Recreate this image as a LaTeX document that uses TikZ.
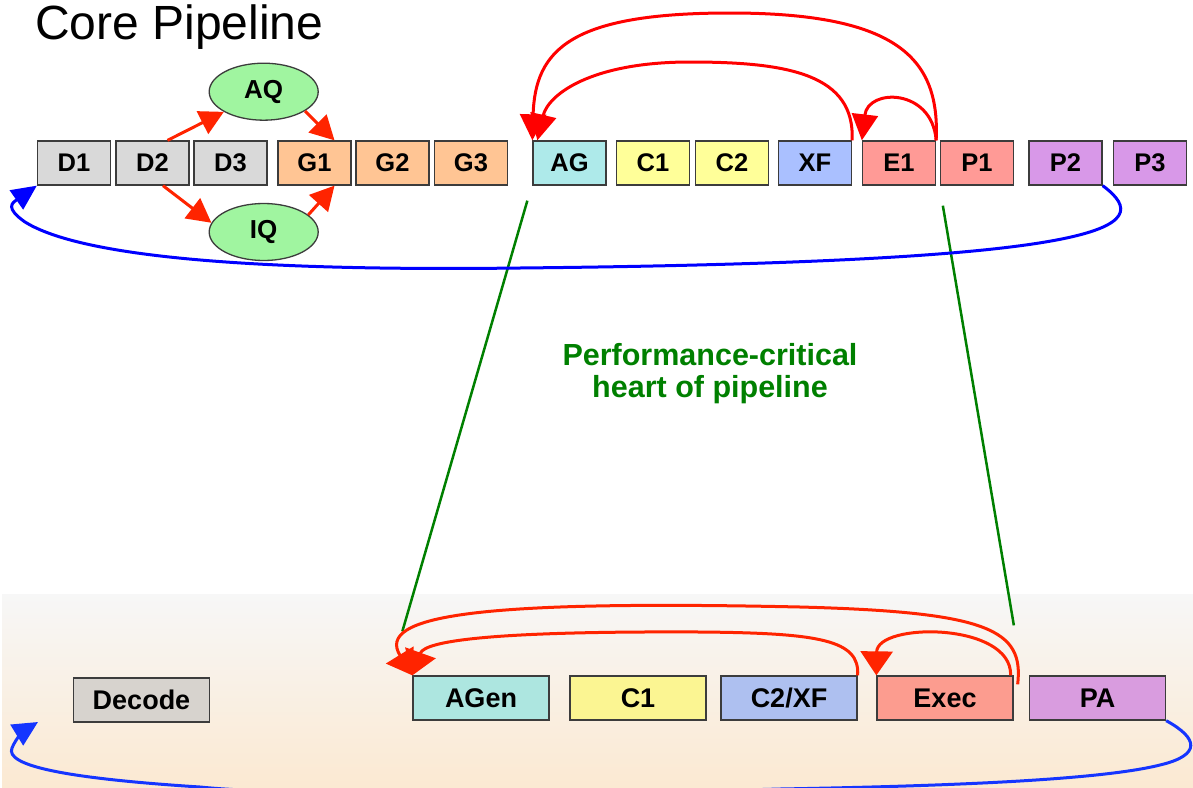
\documentclass[tikz,border=0pt]{standalone}
\usepackage{fontspec}
\setmainfont{Liberation Sans}
\usetikzlibrary{arrows.meta,calc,shapes.geometric}
\definecolor{bordercol}{HTML}{3C3C3C}
\definecolor{cgray}{HTML}{D9D9D9}
\definecolor{corange}{HTML}{FFC594}
\definecolor{ccyan}{HTML}{AEEAEA}
\definecolor{cyellow}{HTML}{FFFF99}
\definecolor{cblue}{HTML}{AAC0FF}
\definecolor{cred}{HTML}{FF9A96}
\definecolor{cpurple}{HTML}{D898E8}
\definecolor{cgreen}{HTML}{A0F5A0}
\definecolor{bgray}{HTML}{D7D3CE}
\definecolor{bcyan}{HTML}{ADE6E0}
\definecolor{byellow}{HTML}{FBF592}
\definecolor{bblue}{HTML}{AEC0F0}
\definecolor{bred}{HTML}{FC9C8F}
\definecolor{bpurple}{HTML}{D99CDF}
\definecolor{arrred}{HTML}{FF0000}
\definecolor{arrred2}{HTML}{FF2400}
\definecolor{arrblue}{HTML}{0000FF}
\definecolor{arrblue2}{HTML}{1535FF}
\definecolor{dgreen}{HTML}{008000}
\definecolor{bgtop}{HTML}{F7F7F7}
\definecolor{bgmid}{HTML}{FDF8F1}
\definecolor{bgbot}{HTML}{FBE9D2}
\tikzset{
  tbox/.style={draw=bordercol, line width=1.3pt, minimum width=73pt, minimum height=44pt,
    inner sep=0pt, font=\fontsize{25.5}{30}\selectfont\bfseries},
  bbox/.style={draw=bordercol, line width=1.3pt, minimum width=136pt, minimum height=44pt,
    inner sep=0pt, font=\fontsize{27}{30}\selectfont\bfseries},
  qell/.style={ellipse, draw=bordercol, line width=1.3pt, fill=cgreen, minimum width=109pt,
    minimum height=57pt, inner sep=0pt, font=\fontsize{26}{30}\selectfont\bfseries},
  redarr/.style={draw=arrred, line width=3pt, -{Triangle[length=26pt,width=26pt]}},
  redarrb/.style={draw=arrred2, line width=3pt, -{Triangle[length=24pt,width=32pt]}},
  qarr/.style={draw=arrred2, line width=3pt, -{Triangle[length=24pt,width=25pt]}},
  bluearr/.style={draw=arrblue, line width=3pt, -{Triangle[length=25pt,width=23pt]}},
  bluearrb/.style={draw=arrblue2, line width=3pt, -{Triangle[length=25pt,width=24pt]}},
  gline/.style={draw=dgreen, line width=2.5pt}
}
\begin{document}
\begin{tikzpicture}[x=1pt,y=-1pt]
\useasboundingbox (0,0) rectangle (1193,787);
\clip (0,0) rectangle (1193,787);
\fill[white] (0,0) rectangle (1193,787);
\fill[top color=bgtop, middle color=bgmid, bottom color=bgbot] (2,594) rectangle (1193,787);

% title
\node[anchor=base west, inner sep=0pt, font=\fontsize{48}{50}\selectfont] (title) at (35,39) {Core Pipeline};

% top row
\node[tbox, fill=cgray] (D1) at (74,163) {D1};
\node[tbox, fill=cgray] (D2) at (152.5,163) {D2};
\node[tbox, fill=cgray] (D3) at (230.5,163) {D3};
\node[tbox, fill=corange] (G1) at (314.5,163) {G1};
\node[tbox, fill=corange] (G2) at (392.5,163) {G2};
\node[tbox, fill=corange] (G3) at (471,163) {G3};
\node[tbox, fill=ccyan] (AG) at (569.5,163) {AG};
\node[tbox, fill=cyellow] (C1) at (653,163) {C1};
\node[tbox, fill=cyellow] (C2) at (732,163) {C2};
\node[tbox, fill=cblue] (XF) at (815,163) {XF};
\node[tbox, fill=cred] (E1) at (899,163) {E1};
\node[tbox, fill=cred] (P1) at (977,163) {P1};
\node[tbox, fill=cpurple] (P2) at (1065.5,163) {P2};
\node[tbox, fill=cpurple] (P3) at (1150,163) {P3};

\node[qell] (AQ) at (263.7,91.7) {AQ};
\node[qell] (IQ) at (263.7,232) {IQ};

% bottom row
\node[bbox, fill=bgray] (Decode) at (141.5,700) {Decode};
\node[bbox, fill=bcyan] (AGen) at (481,698) {AGen};
\node[bbox, fill=byellow] (BC1) at (638,698) {C1};
\node[bbox, fill=bblue] (C2XF) at (789,698) {C2/XF};
\node[bbox, fill=bred] (Exec) at (945,698) {Exec};
\node[bbox, fill=bpurple] (PA) at (1097.5,698) {PA};

% green text
\node[align=center, inner sep=0pt, text=dgreen, font=\fontsize{30.5}{32}\selectfont\bfseries] (crit) at (710,374)
  {Performance-critical\\heart of pipeline};

% green lines
\draw[gline] ($(AG.south west)+(-5,15)$) -- ($(AGen.north west)+(-10,-44)$);
\draw[gline] ($(P1.south west)+(3,20)$) -- ($(PA.north west)+(-15,-50)$);

% queue arrows
\draw[qarr] ($(D2.north)+(15,0)$) -- (AQ);
\draw[qarr] (AQ.-25) -- ($(G1.north)+(20,0)$);
\draw[qarr] ($(D2.south)+(10.5,0)$) -- (IQ.170);
\draw[qarr] (IQ.21) -- ($(G1.south)+(20,0)$);

% top red bypass arcs
\draw[redarr] (E1.north east) .. controls (940,60) and (900,13) .. (730,13)
  .. controls (570,13) and (535,50) .. (AG.north west);
\draw[redarr] (XF.north east) .. controls (855,75) and (790,62) .. (690,62)
  .. controls (590,62) and (548,95) .. ($(AG.north west)+(5,0)$);
\draw[redarr] (E1.north east) .. controls (932,88) and (868,88) .. (E1.north west);

% top blue loop
\draw[bluearr] (P2.south east) .. controls (1160,228) and (1110,262) .. (520,268)
  .. controls (200,272) and (70,250) .. (25,222)
  .. controls (5,208) and (12,203) .. (D1.south west);

% bottom red bypass arcs
\draw[redarrb] ($(Exec.north east)+(4,9)$) .. controls (1024,630) and (990,612) .. (800,607)
  .. controls (480,600) and (375,615) .. (AGen.north west);
\draw[redarrb] (C2XF.north east) .. controls (860,640) and (820,633) .. (700,632)
  .. controls (500,631) and (425,640) .. (AGen.north west);
\draw[redarrb] ($(Exec.north east)+(-3,0)$) .. controls (1012,622) and (877,622) .. (Exec.north west);

% bottom blue loop
\coordinate (dtip) at (38,722);
\draw[bluearrb] (PA.south east) .. controls (1198,738) and (1202,755) .. (1160,765)
  .. controls (1100,780) and (950,786) .. (780,789)
  .. controls (500,797) and (280,795) .. (200,787)
  .. controls (60,778) and (5,765) .. (12,748)
  .. controls (16,738) and (25,730) .. (dtip);
\end{tikzpicture}
\end{document}
